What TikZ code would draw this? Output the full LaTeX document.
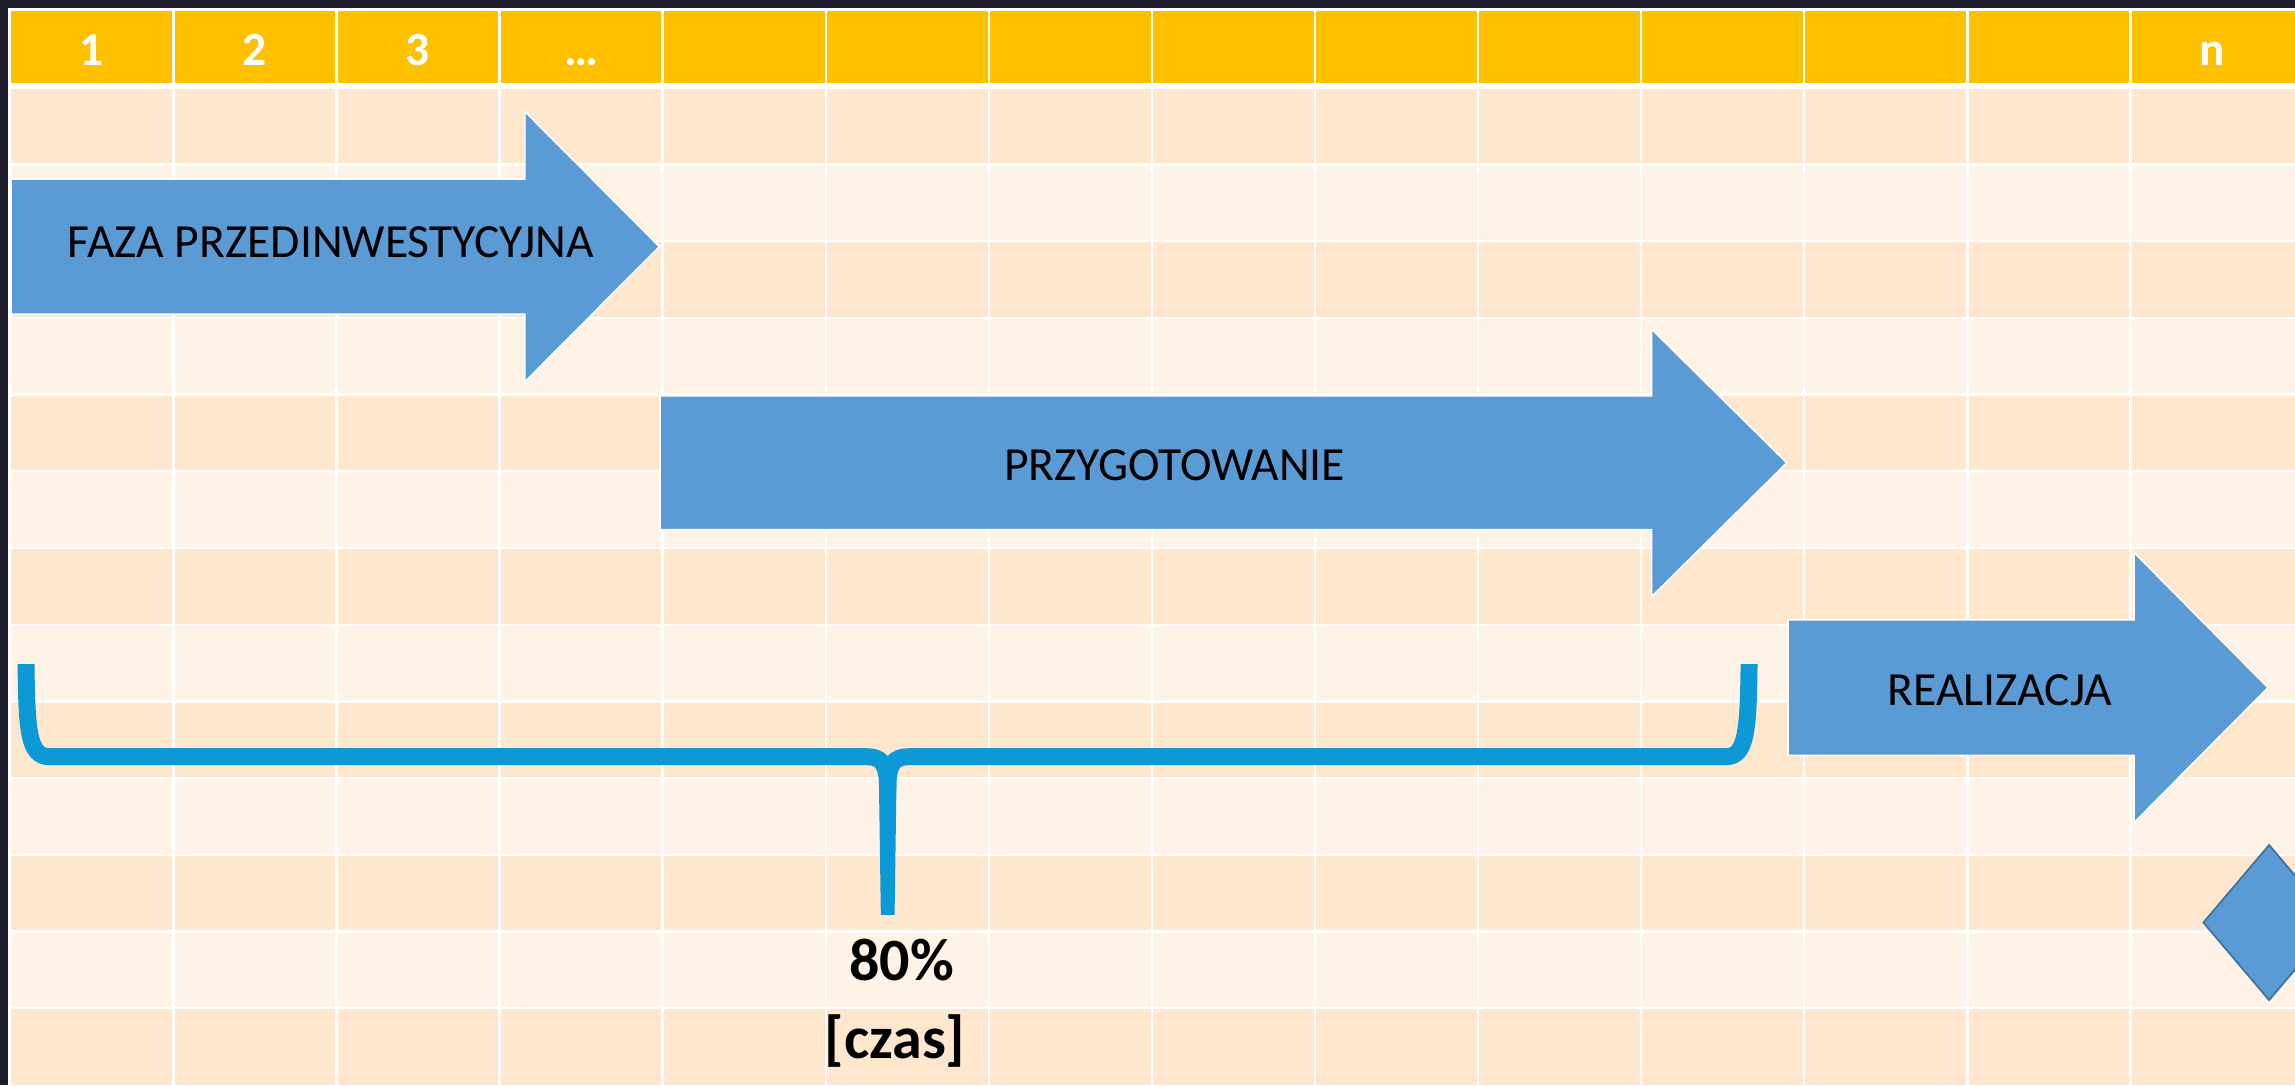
\documentclass[tikz,border=0pt]{standalone}
\usepackage{fontspec}
\setmainfont{Carlito}
\definecolor{bgdark}{HTML}{1F1D2B}
\definecolor{hdr}{HTML}{FFC000}
\definecolor{rowdark}{HTML}{FFE7CE}
\definecolor{rowlight}{HTML}{FFF3E7}
\definecolor{phase}{HTML}{5B9BD5}
\definecolor{phaseedge}{HTML}{41719C}
\definecolor{bracec}{HTML}{0C99D6}
\begin{document}
\begin{tikzpicture}[x=0.5pt,y=-0.5pt,
  hd/.style={font=\fontsize{16.25pt}{19pt}\selectfont\bfseries, text=white, inner sep=0pt, anchor=base},
  lbl/.style={font=\fontsize{16.25pt}{19pt}\selectfont, text=black, inner sep=0pt, anchor=base},
  pct/.style={font=\fontsize{20.5pt}{24pt}\selectfont\bfseries, text=black, inner sep=0pt, anchor=base},
  gridline/.style={white, line width=0.8pt},
  phasearrow/.style={fill=phase, draw=white, line width=0.5pt, line join=miter},
  bracestroke/.style={draw=bracec, line width=5.8pt, line cap=butt, line join=round}]
\useasboundingbox (0,0) rectangle (1568,741.3);
\clip (0,0) rectangle (1568,741.3);
\fill[bgdark] (0,0) rectangle (1568,741.3);
\fill[white] (5.5,5.6) rectangle (1568,741.3);
% header
\fill[hdr] (7.2,7.6) rectangle (1568,56.5);
% banded rows
\foreach \j in {0,...,12}{
  \ifodd\j \def\rc{rowlight}\else\def\rc{rowdark}\fi
  \fill[\rc] (7.2,{60+52.4*\j}) rectangle (1568,{60+52.4*(\j+1)});
}
\fill[white] (7.2,56.5) rectangle (1568,60.8);
% grid
\foreach \k in {1,...,13}{
  \draw[gridline] ({7+111.43*\k},7.6) -- ({7+111.43*\k},741.3);
}
\foreach \j in {1,...,12}{
  \draw[gridline] (7.2,{60+52.4*\j}) -- (1568,{60+52.4*\j});
}
% header labels
\node[hd] (h1) at (62.7,44.4) {1};
\node[hd] (h2) at (174.1,44.4) {2};
\node[hd] (h3) at (285.6,44.4) {3};
\node[hd] (h4) at (397,44.4) {…};
\node[hd] (hn) at (1511.3,44.4) {n};
% phase arrows
\draw[phasearrow] (7.6,122.4) -- (358.7,122.4) -- (358.7,76.3) -- (450.5,168.5) -- (358.7,260.7) -- (358.7,214.6) -- (7.6,214.6) -- cycle;
\draw[phasearrow] (451,270.5) -- (1128.5,270.5) -- (1128.5,225) -- (1220.7,316.2) -- (1128.5,407.5) -- (1128.5,361.9) -- (451,361.9) -- cycle;
\draw[phasearrow] (1221.7,423.5) -- (1458,423.5) -- (1458,377.5) -- (1549.5,469.8) -- (1458,562) -- (1458,516) -- (1221.7,516) -- cycle;
\node[lbl] (tFaza) at (226,175.8) {FAZA PRZEDINWESTYCYJNA};
\node[lbl] (tPrzyg) at (802.5,328.5) {PRZYGOTOWANIE};
\node[lbl] (tReal) at (1366.4,481.7) {REALIZACJA};
% milestone diamond
\draw[fill=phase, draw=phaseedge, line width=0.6pt] (1505.4,630.3) -- (1550.3,577.3) -- (1595.2,630.3) -- (1550.3,683.3) -- cycle;
% brace
\draw[bracestroke] (17.8,453.7) .. controls (18.3,500) and (19.5,517) .. (34,517) -- (592,517) .. controls (602,517) and (606.5,521) .. (606.5,540);
\draw[bracestroke] (1195,453.7) .. controls (1194.5,500) and (1193,517) .. (1179,517) -- (621,517) .. controls (611,517) and (606.5,521) .. (606.5,540);
\fill[bracec] (600.5,534) -- (612.5,534) -- (611.2,625) -- (601.8,625) -- cycle;
% labels
\node[pct] (tPct) at (616,669.6) {80\%};
\node[pct] (tCzas) at (611.5,723) {[czas]};
\end{tikzpicture}
\end{document}
